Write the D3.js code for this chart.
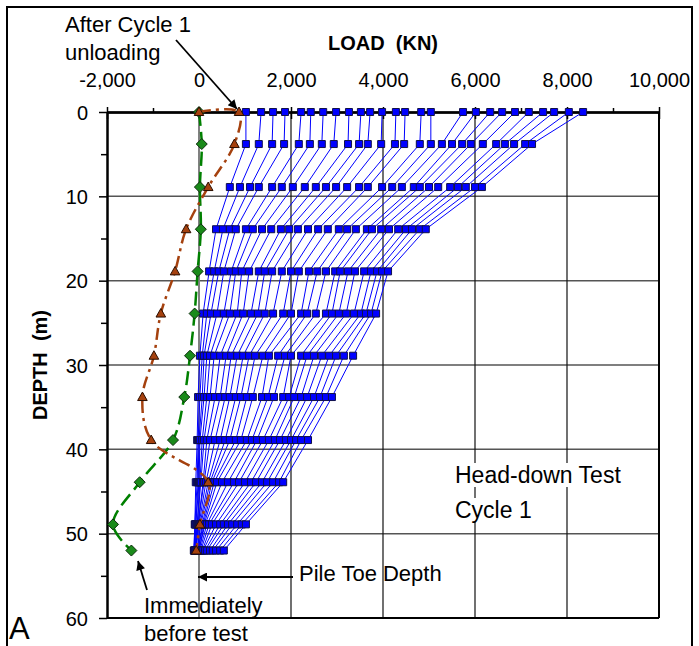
<!DOCTYPE html>
<html><head><meta charset="utf-8">
<script src="https://cdn.jsdelivr.net/npm/d3@7"></script>
<style>
body{margin:0;background:#fff;}
svg{display:block;font-family:"Liberation Sans",Arial,sans-serif;}
</style></head><body>
<svg id="chart" width="699" height="646"></svg>
<script>
// ---------------- DATA ----------------
const depths = [0, 3.8, 8.9, 13.9, 18.9, 23.9, 28.9, 33.8, 38.9, 43.9, 48.9, 52.0];
// load (kN) for each of the 26 load steps, one array per gauge depth
const load_0m    = [1020, 1350, 1610, 1870, 2220, 2430, 2700, 2980, 3260, 3520, 3720, 3980, 4280, 4480, 4830, 5040, 5740, 6020, 6330, 6590, 6870, 7170, 7480, 7720, 8040, 8350];
const load_3_8m  = [1020, 1300, 1590, 1850, 2170, 2410, 2670, 2930, 3240, 3480, 3670, 3960, 4260, 4460, 4800, 5040, 5280, 5500, 5720, 5910, 6170, 6460, 6650, 6850, 7090, 7240];
const load_8_9m  = [670, 890, 1110, 1300, 1590, 1800, 2040, 2300, 2540, 2760, 2980, 3220, 3480, 3670, 3980, 4200, 4410, 4670, 4800, 5000, 5200, 5460, 5630, 5800, 6000, 6150];
const load_13_9m = [370, 520, 670, 800, 1020, 1170, 1370, 1570, 1780, 1960, 2150, 2370, 2590, 2800, 3040, 3220, 3410, 3650, 3760, 3960, 4130, 4330, 4500, 4630, 4800, 4930];
const load_18_9m = [220, 330, 430, 540, 700, 800, 930, 1090, 1300, 1430, 1590, 1800, 2000, 2170, 2390, 2570, 2760, 2960, 3070, 3240, 3390, 3590, 3740, 3870, 3980, 4110];
const load_23_9m = [90, 170, 260, 390, 540, 670, 830, 960, 1130, 1280, 1430, 1610, 1830, 2000, 2220, 2350, 2540, 2760, 2890, 3040, 3200, 3370, 3520, 3630, 3740, 3850];
const load_28_9m = [20, 70, 110, 170, 240, 330, 460, 590, 700, 830, 960, 1090, 1220, 1390, 1520, 1720, 1870, 2000, 2220, 2350, 2500, 2670, 2830, 2980, 3150, 3350];
const load_33_8m = [-20, 20, 70, 110, 170, 240, 350, 460, 570, 670, 800, 910, 1040, 1170, 1370, 1500, 1630, 1830, 1960, 2070, 2220, 2350, 2500, 2630, 2760, 2890];
const load_38_9m = [-40, -20, 0, 20, 70, 110, 170, 240, 350, 460, 570, 670, 800, 910, 1040, 1150, 1260, 1390, 1520, 1650, 1760, 1890, 2000, 2110, 2220, 2370];
const load_43_9m = [-70, -40, -20, 0, 20, 40, 90, 110, 150, 200, 240, 280, 330, 390, 500, 630, 760, 870, 1000, 1130, 1240, 1370, 1480, 1610, 1740, 1830];
const load_48_9m = [-90, -90, -70, -70, -40, -40, -20, -20, 0, 20, 40, 70, 90, 110, 130, 170, 220, 280, 370, 460, 540, 630, 720, 830, 930, 1020];
const load_52m   = [-110, -110, -110, -90, -90, -90, -70, -70, -70, -40, -40, -20, -20, 0, 0, 20, 40, 70, 90, 130, 170, 240, 300, 370, 460, 540];
const loadRows = [load_0m, load_3_8m, load_8_9m, load_13_9m, load_18_9m, load_23_9m, load_28_9m, load_33_8m, load_38_9m, load_43_9m, load_48_9m, load_52m];

// "Immediately before test" residual load
const beforeTestDepth = [0, 3.8, 8.9, 13.9, 18.9, 23.9, 28.9, 33.8, 38.9, 43.9, 48.9, 52.0];
const beforeTestLoad  = [0, 60, 20, 40, -30, -95, -195, -320, -565, -1290, -1870, -1470];
// "After Cycle 1 unloading"
const afterUnloadDepth = [0, 0, 3.8, 8.9, 13.9, 18.9, 23.9, 28.9, 33.8, 38.9, 43.9, 48.9, 52.0];
const afterUnloadLoad  = [0, 870, 770, 200, -280, -520, -830, -980, -1230, -1040, 200, 20, -60];

const xTicks = [-2000, 0, 2000, 4000, 6000, 8000, 10000];
const xTickLabels = ["-2,000", "0", "2,000", "4,000", "6,000", "8,000", "10,000"];
const xMinorTicks = [-1000, 1000, 3000, 5000, 7000, 9000];
const yTicks = [0, 10, 20, 30, 40, 50, 60];
const yTickLabels = ["0", "10", "20", "30", "40", "50", "60"];
const yMinorTicks = [5, 15, 25, 35, 45, 55];

// ---------------- CHART ----------------
const svg = d3.select("#chart");
const x = d3.scaleLinear().domain([-2000, 10000]).range([107, 659]);
const y = d3.scaleLinear().domain([0, 60]).range([112, 618]);

const blue = "#0000FF", green = "#008000", brown = "#A5410E";

// outer frame
svg.append("rect").attr("x", 7).attr("y", 7).attr("width", 685).attr("height", 660)
  .attr("fill", "none").attr("stroke", "#000").attr("stroke-width", 2);

// gridlines
const grid = svg.append("g");
grid.selectAll(".hg").data([10, 20, 30, 40, 50]).join("line")
  .attr("x1", x(-2000)).attr("x2", x(10000)).attr("y1", d => y(d)).attr("y2", d => y(d))
  .attr("stroke", "#555").attr("stroke-width", 1.5);
grid.selectAll(".vg").data([2000, 4000, 6000, 8000]).join("line")
  .attr("x1", d => x(d)).attr("x2", d => x(d)).attr("y1", y(0)).attr("y2", y(60))
  .attr("stroke", "#111").attr("stroke-width", 1.2);
grid.append("line").attr("x1", x(0)).attr("x2", x(0)).attr("y1", y(0)).attr("y2", y(60))
  .attr("stroke", "#808080").attr("stroke-width", 2);
// right and bottom border
grid.append("line").attr("x1", x(10000)).attr("x2", x(10000)).attr("y1", y(0)).attr("y2", y(60))
  .attr("stroke", "#000").attr("stroke-width", 2);
grid.append("line").attr("x1", x(-2000)).attr("x2", x(10000)).attr("y1", y(60)).attr("y2", y(60))
  .attr("stroke", "#000").attr("stroke-width", 2);

// text boxes (white background) for "Head-down Test / Cycle 1"
const noteG = svg.append("g");

// axes
function styleAxis(g) {
  g.select(".domain").attr("stroke", "#000").attr("stroke-width", 2);
  g.selectAll(".tick line").attr("stroke", "#000").attr("stroke-width", 1.5);
  g.selectAll(".tick text").attr("font-size", 20).attr("fill", "#000")
    .attr("font-family", "'Liberation Sans', Arial, sans-serif");
}
const topAxis = svg.append("g").attr("transform", `translate(0,${y(0)})`)
  .call(d3.axisTop(x).tickValues(xTicks).tickFormat((d, i) => xTickLabels[i])
    .tickSizeInner(5).tickSizeOuter(0).tickPadding(20));
styleAxis(topAxis);
const topAxisDown = svg.append("g").attr("transform", `translate(0,${y(0)})`)
  .call(d3.axisBottom(x).tickValues(xTicks).tickFormat("").tickSizeInner(7).tickSizeOuter(0));
styleAxis(topAxisDown);
const topMinor = svg.append("g").attr("transform", `translate(0,${y(0)})`)
  .call(d3.axisTop(x).tickValues(xMinorTicks).tickFormat("").tickSizeInner(4).tickSizeOuter(0));
styleAxis(topMinor);

const leftAxis = svg.append("g").attr("transform", `translate(${x(-2000)},0)`)
  .call(d3.axisLeft(y).tickValues(yTicks).tickFormat((d, i) => yTickLabels[i])
    .tickSizeInner(8).tickSizeOuter(0).tickPadding(11));
styleAxis(leftAxis);
leftAxis.selectAll(".tick text").attr("dy", "0.36em");
const leftMinor = svg.append("g").attr("transform", `translate(${x(-2000)},0)`)
  .call(d3.axisLeft(y).tickValues(yMinorTicks).tickFormat("").tickSizeInner(6).tickSizeOuter(0));
styleAxis(leftMinor);

// axis titles
svg.append("text").attr("x", x(4000)).attr("y", 50).attr("text-anchor", "middle")
  .attr("font-size", 20).attr("font-weight", "bold").style("white-space", "pre")
  .text("LOAD  (KN)");
svg.append("text").attr("transform", `translate(47,${(y(0) + y(60)) / 2}) rotate(-90)`)
  .attr("text-anchor", "middle").attr("font-size", 20).attr("font-weight", "bold")
  .style("white-space", "pre").text("DEPTH  (m)");

// load distribution series
const series = d3.range(load_0m.length).map(i =>
  depths.map((d, j) => ({ depth: d, load: loadRows[j][i] })));
const line = d3.line().x(d => x(d.load)).y(d => y(d.depth));
svg.append("g").selectAll("path").data(series).join("path")
  .attr("d", line).attr("fill", "none").attr("stroke", blue).attr("stroke-width", 1);
const sq = d3.symbol(d3.symbolSquare, 49);
svg.append("g").selectAll("path").data(series.flat()).join("path")
  .attr("d", sq).attr("transform", d => `translate(${x(d.load)},${y(d.depth)})`)
  .attr("fill", blue).attr("stroke", "#10104a").attr("stroke-width", 1);

// immediately before test
const beforeData = beforeTestDepth.map((d, i) => ({ depth: d, load: beforeTestLoad[i] }));
const smooth = d3.line().x(d => x(d.load)).y(d => y(d.depth)).curve(d3.curveCatmullRom.alpha(0.5));
svg.append("path").datum(beforeData).attr("d", smooth).attr("fill", "none")
  .attr("stroke", green).attr("stroke-width", 2.5).attr("stroke-dasharray", "14,6");
svg.append("g").selectAll("path").data(beforeData).join("path")
  .attr("d", "M0,-5.5L5.5,0L0,5.5L-5.5,0Z")
  .attr("transform", d => `translate(${x(d.load)},${y(d.depth)})`)
  .attr("fill", "#1A8A1A").attr("stroke", "#0b2b0b").attr("stroke-width", 1);

// after cycle 1 unloading
const afterData = afterUnloadDepth.map((d, i) => ({ depth: d, load: afterUnloadLoad[i] }));
svg.append("path").datum(afterData).attr("d", smooth).attr("fill", "none")
  .attr("stroke", brown).attr("stroke-width", 2.5).attr("stroke-dasharray", "12,5,3,5");
svg.append("g").selectAll("path").data(afterData).join("path")
  .attr("d", "M0,-5L4.8,3.5L-4.8,3.5Z")
  .attr("transform", d => `translate(${x(d.load)},${y(d.depth)})`)
  .attr("fill", brown).attr("stroke", "#2a0e00").attr("stroke-width", 1);

// annotations
const defs = svg.append("defs");
defs.append("marker").attr("id", "arr").attr("viewBox", "0 0 10 10").attr("refX", 10).attr("refY", 5)
  .attr("markerWidth", 11).attr("markerHeight", 9).attr("markerUnits", "userSpaceOnUse")
  .attr("orient", "auto").append("path").attr("d", "M0,0L10,5L0,10Z").attr("fill", "#000");
function arrow(x1, y1, x2, y2) {
  svg.append("line").attr("x1", x1).attr("y1", y1).attr("x2", x2).attr("y2", y2)
    .attr("stroke", "#000").attr("stroke-width", 1.8).attr("marker-end", "url(#arr)");
}
function label(txt, tx, ty, size) {
  return svg.append("text").attr("x", tx).attr("y", ty).attr("font-size", size || 22).attr("fill", "#000").text(txt);
}
label("After Cycle 1", 65, 32);
label("unloading", 65, 60);
arrow(176, 40, x(870) - 2, y(0) - 3);

label("Pile Toe Depth", 299, 581);
arrow(293, 577, x(0) - 1, 577);

label("Immediately", 144, 613);
label("before test", 144, 641);
arrow(147, 590, 138, 561);

label("A", 9, 639, 31);

const t1 = noteG.append("text").attr("x", 455).attr("y", 483).attr("font-size", 23).text("Head-down Test");
const t2 = noteG.append("text").attr("x", 455).attr("y", 518).attr("font-size", 23).text("Cycle 1");
[t1, t2].forEach(t => {
  const b = t.node().getBBox();
  noteG.insert("rect", "text").attr("x", b.x - 4).attr("y", b.y + 1).attr("width", b.width + 8)
    .attr("height", b.height - 2).attr("fill", "#fff");
});
</script>
</body></html>
